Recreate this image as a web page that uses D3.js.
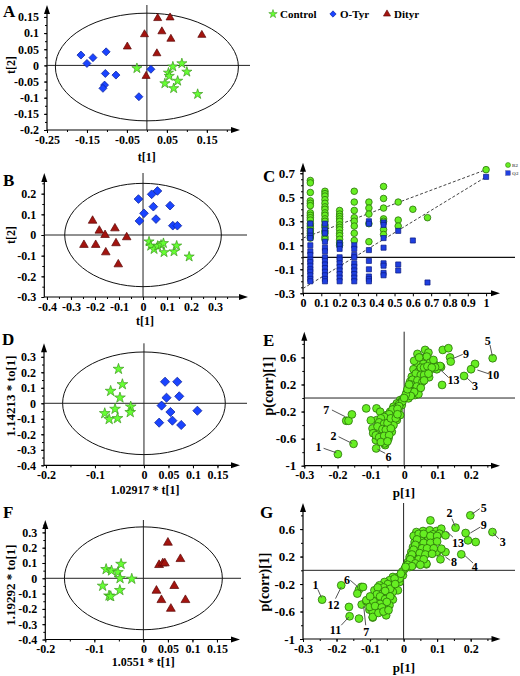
<!DOCTYPE html>
<html><head><meta charset="utf-8">
<script src="https://cdn.jsdelivr.net/npm/d3@7"></script>
<style>body{margin:0;background:#fff}svg{display:block}
text{font-family:"Liberation Serif","Times New Roman",serif;font-weight:bold}</style>
</head><body><svg id="c" width="520" height="676"></svg>
<script>
// ---------------- DATA ----------------
const groupNames = ["Control", "O-Tyr", "Dityr"];

// Panel A (PCA scores t[1], t[2])
const aControl = [[-0.025,-0.009],[0.065,-0.004],[0.0875,0.006],[0.054,-0.023],[0.056,-0.033],[0.1,-0.02],[0.077,-0.048],[0.045,-0.056],[0.067,-0.071],[0.127,-0.089]];
const aOTyr = [[-0.165,0.032],[-0.15,0.006],[-0.135,0.024],[-0.102,0.042],[-0.104,-0.025],[-0.0775,-0.03],[-0.106,-0.061],[-0.11,-0.071],[-0.02,-0.097],[0.01,-0.012]];
const aDityr = [[0.027,0.146],[0.058,0.148],[-0.006,0.096],[0.0375,0.105],[0.06,0.082],[0.1375,0.094],[-0.049,0.058],[0.025,0.037],[-0.002,-0.033]];
const aXTicks = [-0.25,-0.15,-0.05,0.05,0.15];
const aYTicks = [-0.2,-0.15,-0.1,-0.05,0,0.05,0.1,0.15];

// Panel B (PLS-DA scores)
const bControl = [[0.025,-0.032],[0.032,-0.053],[0.046,-0.069],[0.061,-0.053],[0.075,-0.048],[0.085,-0.040],[0.0875,-0.084],[0.129,-0.080],[0.140,-0.052],[0.192,-0.105]];
const bOTyr = [[0.060,0.213],[0.036,0.197],[-0.019,0.174],[0.043,0.137],[0.1125,0.142],[0.004,0.105],[0.054,0.077],[-0.015,0.068],[0.124,0.045],[0.143,0.045]];
const bDityr = [[-0.210,0.069],[-0.182,0.021],[-0.158,0],[-0.117,0.032],[-0.068,-0.011],[-0.246,-0.048],[-0.197,-0.048],[-0.1125,-0.040],[-0.155,-0.084],[-0.103,-0.142]];
const bXTicks = [-0.4,-0.3,-0.2,-0.1,0,0.1,0.2,0.3];
const bYTicks = [-0.3,-0.2,-0.1,0,0.1,0.2];

// Panel C (permutation test)
const permX = [0.04,0.12,0.2,0.28,0.36,0.44,0.52,0.6,0.68,1];
const r2Values = [
 [0.64,0.62,0.54,0.47,0.45,0.43,0.37,0.35,0.33,0.31,0.28,0.26,0.24,0.22,0.2,0.18,0.16],
 [0.55,0.53,0.51,0.48,0.45,0.42,0.4,0.37,0.35,0.32,0.3,0.27,0.25,0.22,0.2,0.17,0.15],
 [0.39,0.36,0.34,0.32,0.3,0.27,0.25,0.23,0.2,0.18,0.15,0.12,0.1],
 [0.55,0.46,0.39,0.33,0.3,0.26,0.2,0.14],
 [0.46,0.41,0.36,0.28,0.13],
 [0.59,0.49,0.41,0.32,0.3,0.23,0.19],
 [0.46,0.31,0.26],
 [0.4],
 [0.33],
 [0.73]];
const q2Values = [
 [0.28,0.22,0.18,0.16,0.1,0.05,0.02,-0.02,-0.04,-0.07,-0.1,-0.12,-0.15,-0.18,-0.2],
 [0.28,0.23,0.2,0.13,0.08,0.05,0.0,-0.03,-0.06,-0.09,-0.12,-0.15,-0.18,-0.2],
 [0.12,0.1,0.07,0.0,-0.02,-0.05,-0.08,-0.11,-0.14,-0.17,-0.2],
 [0.1,0.07,0.02,0.0,-0.05,-0.08,-0.11,-0.14,-0.17,-0.2],
 [0.3,0.28,0.06,-0.03,-0.1,-0.16,-0.18,-0.2],
 [0.29,0.27,0.16,0.08,-0.05,-0.07,-0.13,-0.15],
 [0.22,-0.06,-0.11],
 [0.14],
 [-0.21],
 [0.67]];
const r2Line = [[0,0.16],[1,0.73]];
const q2Line = [[0,-0.26],[1,0.67]];
const cXTicks = [0,0.1,0.2,0.3,0.4,0.5,0.6,0.7,0.8,0.9,1];
const cYTicks = [-0.3,-0.1,0.1,0.3,0.5,0.7];
const cLegend = ["R2","Q2"];

// Panel D (OPLS-DA Control vs O-Tyr)
const dControl = [[-0.052,0.221],[-0.044,0.122],[-0.068,0.079],[-0.049,0.036],[-0.027,-0.022],[-0.028,-0.058],[-0.059,-0.037],[-0.080,-0.065],[-0.071,-0.103],[-0.054,-0.097]];
const dOTyr = [[0.043,0.139],[0.068,0.139],[0.046,0.036],[0.072,0.045],[0.036,-0.015],[0.054,-0.056],[0.109,-0.048],[0.058,-0.112],[0.031,-0.125],[0.076,-0.140]];
const dfXTicks = [-0.2,-0.1,0,0.05,0.1,0.15];
const dfYTicks = [-0.4,-0.3,-0.2,-0.1,0,0.1,0.2,0.3];

// Panel E (S-plot Control vs O-Tyr)
const eLoadings = [
[-0.199,-0.83],[-0.152,-0.677],[-0.174,-0.336],[-0.167,-0.336],[-0.157,-0.242],[-0.084,-0.745],
[0.266,0.588],[0.138,0.60],[0.140,0.538],[0.213,0.504],[0.201,0.425],[0.18,0.326],[0.111,0.459],
[0.116,0.711],[0.133,0.736],[0.114,0.193],[-0.114,-0.153],[-0.083,-0.153],[-0.085,-0.622],
[0.040,0.652],[0.063,0.711],[0.073,0.671],[0.053,0.588],[0.068,0.612],[0.038,0.514],[0.058,0.504],[0.078,0.523],[0.093,0.489],[0.088,0.563],[0.098,0.425],[0.108,0.474],[0.028,0.425],[0.043,0.390],[0.063,0.390],[0.078,0.415],[0.023,0.316],[0.038,0.316],[0.053,0.292],[0.068,0.307],[0.018,0.242],[0.033,0.218],[0.048,0.193],[0.013,0.168],[0.028,0.129],[0.043,0.119],[0.008,0.093],[0.018,0.07],[0.033,0.044],[0.003,0.019],[0.013,-0.005],[0.038,0.07],[0.075,0.307],[0.043,0.059],[0.093,0.455],
[0.03,0.55],[0.045,0.6],[0.05,0.45],[0.06,0.45],[0.07,0.47],[0.083,0.45],[0.035,0.36],[0.05,0.34],[0.06,0.34],[0.073,0.36],[0.025,0.27],[0.04,0.26],[0.055,0.24],[0.06,0.26],[0.02,0.2],[0.038,0.17],[0.05,0.15],[0.015,0.12],[0.023,0.1],[0.03,0.09],[0.008,0.04],[0.02,0.03],
[-0.072,-0.203],[-0.012,-0.030],[-0.022,-0.079],[-0.032,-0.129],[-0.007,-0.104],[-0.017,-0.178],[-0.027,-0.203],[-0.042,-0.203],[-0.052,-0.252],[-0.032,-0.277],[-0.012,-0.252],[-0.057,-0.326],[-0.042,-0.351],[-0.022,-0.326],[-0.082,-0.326],[-0.067,-0.4],[-0.047,-0.425],[-0.032,-0.4],[-0.087,-0.449],[-0.072,-0.499],[-0.052,-0.523],[-0.037,-0.499],[-0.062,-0.622],[-0.047,-0.597],[-0.057,-0.696],
[-0.1,-0.33],[-0.095,-0.45],[-0.093,-0.52],[-0.069,-0.548],[-0.059,-0.67],
[-0.005,-0.02],[-0.01,-0.07],[-0.015,-0.09],[-0.025,-0.15],[-0.035,-0.17],[-0.045,-0.24],[-0.06,-0.28],[-0.07,-0.3],[-0.075,-0.36],[-0.06,-0.38],[-0.05,-0.37],[-0.04,-0.3],[-0.08,-0.42],[-0.065,-0.46],[-0.055,-0.47],[-0.04,-0.45],[-0.085,-0.55],[-0.075,-0.58],[-0.06,-0.56],[-0.045,-0.55],[-0.07,-0.65],[-0.05,-0.64],
[-0.005,-0.05],[0.005,0.05],[-0.015,-0.12],[0.01,0.13],[0.015,0.2],[-0.02,-0.16],[0.0,0.0],[-0.025,-0.3],[-0.02,-0.24]];
// note: [label, textX, textY, lineX1, lineY1, lineX2, lineY2] in data units
const eNotes = [
["1",-0.257,-0.728,-0.242,-0.743,-0.204,-0.808],
["2",-0.212,-0.557,-0.197,-0.572,-0.157,-0.669],
["7",-0.234,-0.177,-0.217,-0.177,-0.177,-0.276],
["6",-0.047,-0.867,-0.057,-0.817,-0.080,-0.758],
["5",0.251,0.846,0.258,0.783,0.265,0.620],
["9",0.186,0.650,0.176,0.645,0.148,0.586],
["10",0.268,0.340,0.256,0.355,0.220,0.414],
["3",0.213,0.182,0.206,0.217,0.188,0.300],
["13",0.148,0.276,0.133,0.306,0.108,0.424]];
const egXTicks = [-0.3,-0.2,-0.1,0,0.1,0.2];
const egYTicks = [-1,-0.6,-0.2,0.2,0.6];

// Panel F (OPLS-DA Control vs Dityr)
const fControl = [[-0.0455,0.093],[-0.076,0.059],[-0.065,0.05],[-0.052,0.039],[-0.0476,0.0],[-0.0237,-0.004],[-0.083,-0.05],[-0.048,-0.078],[-0.07,-0.114],[-0.0666,-0.118]];
const fDityr = [[0.050,0.233],[0.0755,0.126],[0.032,0.087],[0.0396,0.098],[0.0437,0.098],[0.063,-0.050],[0.0266,-0.081],[0.0857,-0.142],[0.0367,-0.142],[0.056,-0.199]];

// Panel G (S-plot Control vs Dityr)
const gLoadings = [
[-0.243,-0.427],[-0.186,-0.218],[-0.133,-0.281],[-0.126,-0.242],[-0.138,-0.339],[-0.161,-0.669],[-0.163,-0.533],[-0.125,-0.499],[-0.111,-0.451],[-0.102,-0.572],[-0.133,-0.703],[-0.092,-0.688],
[0.155,0.621],[0.199,0.8],[0.185,0.543],[0.192,0.436],[0.215,0.412],[0.265,0.557],[0.172,0.233],[0.102,0.276],[0.110,0.160],[0.125,0.266],[0.080,0.727],[0.068,0.087],
[0.038,0.557],[0.058,0.572],[0.078,0.582],[0.098,0.572],[0.1125,0.606],[0.048,0.485],[0.068,0.495],[0.088,0.524],[0.107,0.533],[0.033,0.412],[0.053,0.427],[0.073,0.436],[0.093,0.446],[0.028,0.339],[0.046,0.349],[0.066,0.364],[0.083,0.364],[0.023,0.267],[0.040,0.281],[0.058,0.291],[0.076,0.267],[0.018,0.194],[0.036,0.204],[0.053,0.194],[0.013,0.121],[0.028,0.136],[0.043,0.121],[0.008,0.073],[0.018,0.048],[0.068,0.097],[0.098,0.267],[0.1125,0.315],[0.125,0.509],
[0.03,0.5],[0.045,0.53],[0.06,0.53],[0.08,0.5],[0.1,0.5],[0.04,0.45],[0.06,0.4],[0.08,0.4],[0.1,0.42],[0.035,0.37],[0.055,0.32],[0.07,0.32],[0.09,0.32],[0.03,0.3],[0.048,0.25],[0.065,0.23],[0.085,0.24],[0.025,0.23],[0.045,0.16],[0.06,0.16],[0.02,0.16],[0.035,0.1],[0.05,0.08],[0.012,0.08],[0.025,0.06],
[-0.007,-0.048],[-0.017,-0.097],[-0.002,-0.073],[-0.032,-0.097],[-0.022,-0.145],[-0.042,-0.145],[-0.012,-0.170],[-0.057,-0.170],[-0.037,-0.218],[-0.027,-0.243],[-0.072,-0.218],[-0.052,-0.266],[-0.017,-0.291],[-0.087,-0.291],[-0.067,-0.339],[-0.042,-0.339],[-0.032,-0.315],[-0.082,-0.412],[-0.062,-0.436],[-0.047,-0.397],[-0.032,-0.426],[-0.077,-0.533],[-0.057,-0.533],[-0.042,-0.509],[-0.092,-0.606],[-0.067,-0.582],[-0.052,-0.655],[-0.111,-0.436],[-0.101,-0.533],[-0.121,-0.243],[-0.092,-0.679],
[-0.012,-0.12],[-0.027,-0.12],[-0.047,-0.2],[-0.06,-0.25],[-0.04,-0.27],[-0.025,-0.2],[-0.077,-0.25],[-0.08,-0.35],[-0.055,-0.3],[-0.07,-0.38],[-0.055,-0.42],[-0.04,-0.38],[-0.09,-0.45],[-0.07,-0.49],[-0.05,-0.46],[-0.085,-0.52],[-0.065,-0.54],[-0.075,-0.62],[-0.06,-0.6],[-0.045,-0.58],[-0.1,-0.38],
[0.003,0.02],[-0.004,-0.02],[0.006,0.05],[-0.008,-0.05]];
const gNotes = [
["1",-0.263,-0.208,-0.256,-0.276,-0.245,-0.397],
["12",-0.209,-0.495,-0.203,-0.412,-0.186,-0.243],
["6",-0.169,-0.135,-0.159,-0.145,-0.136,-0.243],
["11",-0.203,-0.873,-0.186,-0.8,-0.163,-0.679],
["7",-0.111,-0.897,-0.113,-0.8,-0.119,-0.524],
["2",0.137,0.833,0.144,0.752,0.154,0.64],
["5",0.239,0.912,0.227,0.897,0.203,0.815],
["9",0.239,0.669,0.229,0.630,0.199,0.543],
["3",0.296,0.412,0.284,0.461,0.267,0.543],
["13",0.162,0.397,0.147,0.484,0.127,0.572],
["8",0.150,0.121,0.139,0.145,0.125,0.193],
["4",0.212,0.058,0.207,0.106,0.182,0.218]];

// ---------------- STYLE ----------------
const COL = {
  star: {fill:"#66ff33", stroke:"#3c9a1c"},
  diamond: {fill:"#1a44ff", stroke:"#0a1f99"},
  tri: {fill:"#a3140f", stroke:"#5a0606"},
  circ: {fill:"#66ee22", stroke:"#2a700a"},
  sq: {fill:"#1f3fe0", stroke:"#0a1a80"}
};
const svg = d3.select("#c");
svg.append("rect").attr("width",520).attr("height",676).attr("fill","#fff");
const fmt = d => String(+d.toFixed(3));
const FONT = '"Liberation Serif","Times New Roman",serif';

function frame(o) {
  const x = d3.scaleLinear().domain(o.xDom).range(o.xR);
  const y = d3.scaleLinear().domain(o.yDom).range(o.yR);
  const g = svg.append("g");
  const [x0,x1] = o.xR, [yb,yt] = o.yR;
  if (o.xMinor) g.append("g").attr("transform",`translate(0,${yb})`)
      .call(d3.axisBottom(x).tickValues(o.xMinor).tickSize(2).tickFormat(""))
      .call(s=>s.select(".domain").remove());
  if (o.yMinor) g.append("g").attr("transform",`translate(${x0},0)`)
      .call(d3.axisLeft(y).tickValues(o.yMinor).tickSize(2).tickFormat(""))
      .call(s=>s.select(".domain").remove());
  const xa = g.append("g").attr("transform",`translate(0,${yb})`)
      .call(d3.axisBottom(x).tickValues(o.xTicks).tickFormat(fmt).tickSize(3).tickPadding(2))
      .call(s=>s.select(".domain").remove());
  const ya = g.append("g").attr("transform",`translate(${x0},0)`)
      .call(d3.axisLeft(y).tickValues(o.yTicks).tickFormat(fmt).tickSize(3).tickPadding(5))
      .call(s=>s.select(".domain").remove());
  xa.attr("font-family",FONT).attr("font-size",o.tickFs||12).attr("font-weight","bold");
  ya.attr("font-family",FONT).attr("font-size",o.yTickFs||o.tickFs||12).attr("font-weight","bold");
  g.append("line").attr("x1",x0).attr("x2",x1-6).attr("y1",yb).attr("y2",yb).attr("stroke","#000").attr("stroke-width",1.2);
  g.append("path").attr("d",`M${x1},${yb}L${x1-9},${yb-3}L${x1-9},${yb+3}Z`).attr("fill","#000");
  g.append("line").attr("x1",x0).attr("x2",x0).attr("y1",yb).attr("y2",yt+6).attr("stroke","#000").attr("stroke-width",1.2);
  g.append("path").attr("d",`M${x0},${yt}L${x0-3},${yt+9}L${x0+3},${yt+9}Z`).attr("fill","#000");
  return {x,y,g};
}
function cross(p, hEnd, vTop) {
  p.g.append("line").attr("x1",p.x.range()[0]).attr("x2",hEnd).attr("y1",p.y(0)).attr("y2",p.y(0)).attr("stroke","#222").attr("stroke-width",1);
  if (vTop !== null) p.g.append("line").attr("x1",p.x(0)).attr("x2",p.x(0)).attr("y1",p.y.range()[0]).attr("y2",vTop).attr("stroke","#222").attr("stroke-width",1);
}
function ellipse(p, cy, rx, ry) {
  p.g.append("ellipse").attr("cx",p.x(0)).attr("cy",p.y(cy))
   .attr("rx",p.x(rx)-p.x(0)).attr("ry",p.y(0)-p.y(ry))
   .attr("fill","none").attr("stroke","#111").attr("stroke-width",1);
}
function markers(p, data, type, size) {
  const sym = type==="star"?d3.symbolStar:type==="tri"?d3.symbolTriangle:d3.symbolSquare;
  const c = COL[type];
  p.g.append("g").selectAll("path").data(data).join("path")
    .attr("d", d3.symbol(sym, size))
    .attr("transform", d=>`translate(${p.x(d[0])},${p.y(d[1])})${type==="diamond"?" rotate(45)":""}`)
    .attr("fill", c.fill).attr("stroke", c.stroke).attr("stroke-width",0.7);
}
function circles(p, data, r) {
  p.g.append("g").selectAll("circle").data(data).join("circle")
    .attr("cx",d=>p.x(d[0])).attr("cy",d=>p.y(d[1])).attr("r",r)
    .attr("fill",COL.circ.fill).attr("stroke",COL.circ.stroke).attr("stroke-width",0.8);
}
function notes(p, data) {
  const g = p.g.append("g");
  g.selectAll("line").data(data).join("line")
    .attr("x1",d=>p.x(d[3])).attr("y1",d=>p.y(d[4])).attr("x2",d=>p.x(d[5])).attr("y2",d=>p.y(d[6]))
    .attr("stroke","#555").attr("stroke-width",1);
  g.selectAll("text").data(data).join("text")
    .attr("x",d=>p.x(d[1])).attr("y",d=>p.y(d[2])).attr("dy","0.35em")
    .attr("text-anchor","middle").attr("font-size",12).text(d=>d[0]);
}
function label(t,x,y,fs,opts={}) {
  const e = svg.append("text").attr("x",x).attr("y",y).attr("font-size",fs).text(t);
  if (opts.anchor) e.attr("text-anchor",opts.anchor);
  if (opts.rot) e.attr("transform",`rotate(-90,${x},${y})`);
  return e;
}
const rng = (a,b,s) => d3.range(Math.round((b-a)/s)+1).map(i=>+(a+i*s).toFixed(4));

// ---------------- PANEL A ----------------
const pA = frame({xDom:[-0.25,0.233], xR:[47,240], yDom:[-0.2,0.187], yR:[130,5],
  xTicks:aXTicks, yTicks:aYTicks, yMinor:rng(-0.2,0.15,0.025), xMinor:rng(-0.25,0.2,0.05)});
cross(pA, 250, 5);
ellipse(pA, -0.005, 0.229, 0.1667);
markers(pA, aDityr, "tri", 28);
markers(pA, aOTyr, "diamond", 32);
markers(pA, aControl, "star", 32);
label("A",3,17,17); label("t[1]",146.7,161,12,{anchor:"middle"});
label("t[2]",15,65,12,{anchor:"middle",rot:true});

const legG = svg.append("g");
const legX = [273, 333, 387];
const legT = ["star","diamond","tri"];
groupNames.forEach((n,i)=>{
  const c = COL[legT[i]];
  legG.append("path").attr("d", d3.symbol(legT[i]==="star"?d3.symbolStar:legT[i]==="tri"?d3.symbolTriangle:d3.symbolSquare, legT[i]==="diamond"?20:22))
    .attr("transform",`translate(${legX[i]},14)${legT[i]==="diamond"?" rotate(45)":""}`)
    .attr("fill",c.fill).attr("stroke",c.stroke).attr("stroke-width",0.6);
  legG.append("text").attr("x",legX[i]+7).attr("y",17.5).attr("font-size",11).text(n);
});

// ---------------- PANEL B ----------------
const pB = frame({xDom:[-0.411,0.437], xR:[44.3,248], yDom:[-0.3,0.3], yR:[297,173],
  xTicks:bXTicks, yTicks:bYTicks, yMinor:rng(-0.3,0.25,0.05), xMinor:rng(-0.4,0.4,0.05)});
cross(pB, 247, 173);
ellipse(pB, 0, 0.326, 0.25);
markers(pB, bDityr, "tri", 32);
markers(pB, bOTyr, "diamond", 38);
markers(pB, bControl, "star", 32);
label("B",3,186,17); label("t[1]",145,325,12,{anchor:"middle"});
label("t[2]",15,235,12,{anchor:"middle",rot:true});

// ---------------- PANEL C ----------------
const pC = frame({xDom:[0,1.076], xR:[303,500], yDom:[-0.3,0.788], yR:[293.3,162.7],
  xTicks:cXTicks, yTicks:cYTicks, yMinor:rng(-0.3,0.7,0.05), yTickFs:13});
pC.g.append("line").attr("x1",303).attr("x2",515).attr("y1",pC.y(0)).attr("y2",pC.y(0)).attr("stroke","#111").attr("stroke-width",1.2);
[r2Line,q2Line].forEach(L=>pC.g.append("line")
  .attr("x1",pC.x(L[0][0])).attr("y1",pC.y(L[0][1])).attr("x2",pC.x(L[1][0])).attr("y2",pC.y(L[1][1]))
  .attr("stroke","#444").attr("stroke-width",1).attr("stroke-dasharray","3,2"));
const r2Pts = permX.flatMap((xv,i)=>r2Values[i].map(v=>[xv,v]));
const q2Pts = permX.flatMap((xv,i)=>q2Values[i].map(v=>[xv,v]));
circles(pC, r2Pts, 3.3);
markers(pC, q2Pts, "sq", 26);
label("C",263,182,17);
svg.append("circle").attr("cx",508).attr("cy",165).attr("r",2.5).attr("fill",COL.circ.fill).attr("stroke",COL.circ.stroke).attr("stroke-width",0.5);
svg.append("rect").attr("x",505.8).attr("y",170.8).attr("width",4.4).attr("height",4.4).attr("fill",COL.sq.fill).attr("stroke",COL.sq.stroke).attr("stroke-width",0.4);
label(cLegend[0],512,167,5).attr("font-weight","normal").attr("fill","#666");
label(cLegend[1],512,175,5).attr("font-weight","normal").attr("fill","#666");

// ---------------- PANEL D ----------------
const pD = frame({xDom:[-0.204,0.196], xR:[44,240], yDom:[-0.4,0.387], yR:[465.3,343.3],
  xTicks:dfXTicks, yTicks:dfYTicks, yMinor:rng(-0.4,0.35,0.05), xMinor:rng(-0.2,0.15,0.05)});
cross(pD, 247, 343.3);
ellipse(pD, 0, 0.166, 0.331);
markers(pD, dOTyr, "diamond", 42);
markers(pD, dControl, "star", 36);
label("D",2,345,17); label("1.02917 * t[1]",145,494,12,{anchor:"middle"});
label("1.14213 * to[1]",15,396,13,{anchor:"middle",rot:true});

// ---------------- PANEL E ----------------
const pE = frame({xDom:[-0.3,0.288], xR:[304.3,500], yDom:[-1,0.98], yR:[465.7,331.7],
  xTicks:egXTicks, yTicks:egYTicks, yMinor:rng(-1,0.8,0.2), xMinor:rng(-0.3,0.25,0.05), yTickFs:13});
cross(pE, 515, 331.7);
circles(pE, eLoadings, 3.9);
notes(pE, eNotes);
label("E",263,346,17); label("p[1]",404,497,13,{anchor:"middle"});
label("p(corr)[1]",273,386,14,{anchor:"middle",rot:true});

// ---------------- PANEL F ----------------
const pF = frame({xDom:[-0.2,0.197], xR:[45.3,240], yDom:[-0.4,0.381], yR:[639.5,520],
  xTicks:dfXTicks, yTicks:dfYTicks, yMinor:rng(-0.4,0.35,0.05), xMinor:rng(-0.2,0.15,0.05)});
cross(pF, 241, 520);
ellipse(pF, 0, 0.161, 0.336);
markers(pF, fDityr, "tri", 34);
markers(pF, fControl, "star", 36);
label("F",3,518,17); label("1.0551 * t[1]",143.3,666,12,{anchor:"middle"});
label("1.19292 * to[1]",15,585,13,{anchor:"middle",rot:true});

// ---------------- PANEL G ----------------
const pG = frame({xDom:[-0.3,0.289], xR:[303,500.5], yDom:[-1,0.98], yR:[639,503],
  xTicks:egXTicks, yTicks:egYTicks, yMinor:rng(-1,0.8,0.2), xMinor:rng(-0.3,0.25,0.05), yTickFs:13});
cross(pG, 515, 503);
circles(pG, gLoadings, 3.9);
notes(pG, gNotes);
label("G",260,518,17); label("p[1]",404,672,13,{anchor:"middle"});
label("p(corr)[1]",269,582,14,{anchor:"middle",rot:true});
</script></body></html>
